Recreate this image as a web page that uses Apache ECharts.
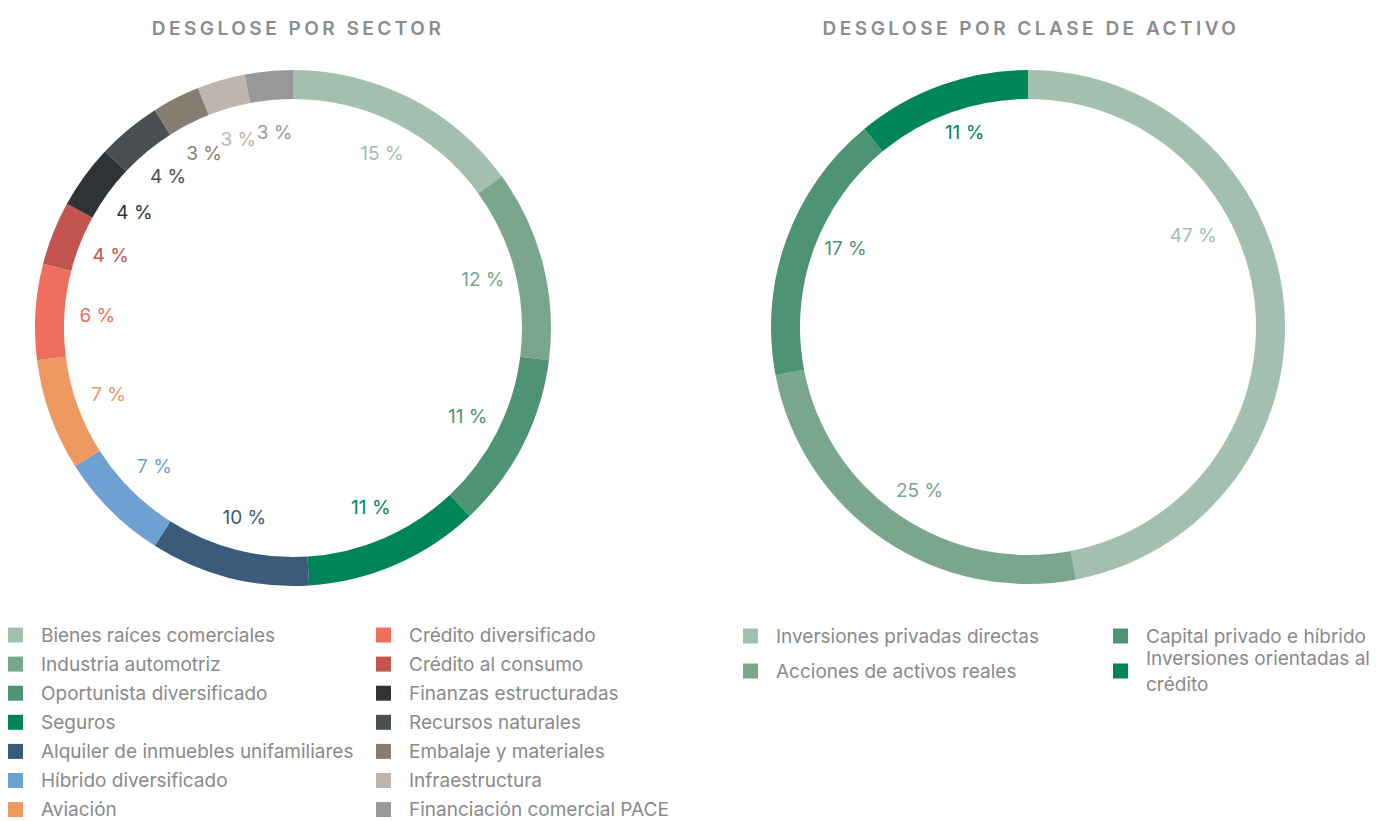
<!DOCTYPE html>
<html>
<head>
<meta charset="utf-8">
<script src="https://cdn.jsdelivr.net/npm/echarts@6/dist/echarts.min.js"></script>
<style>
html, body { margin: 0; padding: 0; background: #fff; }
#chart { width: 1380px; height: 821px; }
/* titles are tracked out in the source */
#chart text[style*="TitleFace"] { letter-spacing: 3.5px; }
</style>
</head>
<body>
<div id="chart"></div>
<script>
const sectorNames = [
    'Bienes raíces comerciales', 'Industria automotriz', 'Oportunista diversificado', 'Seguros',
    'Alquiler de inmuebles unifamiliares', 'Híbrido diversificado', 'Aviación',
    'Crédito diversificado', 'Crédito al consumo', 'Finanzas estructuradas', 'Recursos naturales',
    'Embalaje y materiales', 'Infraestructura', 'Financiación comercial PACE'
];
const sectorValues = [15, 12, 11, 11, 10, 7, 7, 6, 4, 4, 4, 3, 3, 3];
const sectorColors = [
    '#a3bfb0', '#7aa68e', '#4e9373', '#00845a', '#3a5b7a', '#6fa0d2', '#ee9862',
    '#f06e5e', '#c35550', '#2f3336', '#4a4f52', '#877c72', '#beb6ae', '#97989a'
];

const assetNames = [
    'Inversiones privadas directas', 'Acciones de activos reales',
    'Capital privado e híbrido', 'Inversiones orientadas al crédito'
];
const assetValues = [47, 25, 17, 11];
const assetColors = ['#a3bfb0', '#7aa68e', '#4e9373', '#00845a'];

const FONT = 'Inter';
const TEXT_GREY = '#8a8a8a';

const chart = echarts.init(document.getElementById('chart'), null, { renderer: 'svg' });

// the ring itself
function ring(names, values, colors, center, radius) {
    return {
        type: 'pie',
        center: center,
        radius: radius,
        startAngle: 90,
        silent: true,
        label: { show: false },
        labelLine: { show: false },
        emphasis: { disabled: true },
        data: names.map((n, i) => ({ name: n, value: values[i], itemStyle: { color: colors[i] } }))
    };
}

// transparent copy of the ring, only used to place the % labels inside the hole
function labels(names, values, colors, center, radius, offsets) {
    return {
        type: 'pie',
        center: center,
        radius: radius,
        startAngle: 90,
        silent: true,
        avoidLabelOverlap: false,
        labelLayout: { hideOverlap: false },
        labelLine: { show: false },
        emphasis: { disabled: true },
        data: names.map((n, i) => ({
            name: n,
            value: values[i],
            itemStyle: { color: 'rgba(0,0,0,0)' },
            label: {
                show: true,
                position: 'inside',
                formatter: '{c} %',
                color: colors[i],
                fontFamily: FONT,
                fontSize: 19,
                offset: (offsets && offsets[i]) || [0, 0]
            }
        }))
    };
}

function legend(names, left, top, gap, lineHeight, formatter) {
    return {
        data: names,
        orient: 'vertical',
        left: left,
        top: top,
        height: 260,
        padding: 0,
        icon: 'rect',
        itemWidth: 15,
        itemHeight: 15,
        itemGap: gap,
        selectedMode: false,
        formatter: formatter,
        textStyle: {
            color: TEXT_GREY,
            fontFamily: FONT,
            fontSize: 19,
            lineHeight: lineHeight,
            padding: [0, 0, 0, 13]
        }
    };
}

const titleStyle = {
    color: '#8c8c8f',
    fontFamily: 'Inter, TitleFace',
    fontSize: 19,
    fontWeight: 600
};

const wrapAsset = name => name === 'Inversiones orientadas al crédito'
    ? 'Inversiones orientadas al\ncrédito' : name;

const option = {
    backgroundColor: '#fff',
    animation: false,
    title: [
        { text: 'DESGLOSE POR SECTOR', left: 293, top: 14, textAlign: 'center', textStyle: titleStyle },
        { text: 'DESGLOSE POR CLASE DE ACTIVO', left: 1026, top: 14, textAlign: 'center', textStyle: titleStyle }
    ],
    legend: [
        legend(sectorNames.slice(0, 7), 8, 625, 9.1, 20),
        legend(sectorNames.slice(7), 376, 625, 9.1, 20),
        legend(assetNames.slice(0, 2), 743, 623, 9, 26),
        legend(assetNames.slice(2), 1113, 623, -4, 26, wrapAsset)
    ],
    series: [
        ring(sectorNames, sectorValues, sectorColors, [293, 328], [229, 258]),
        ring(assetNames, assetValues, assetColors, [1028, 327], [228, 257]),
        labels(sectorNames, sectorValues, sectorColors, [293, 328], [173, 213]),
        labels(assetNames, assetValues, assetColors, [1028, 327], [170, 210],
            [[-27, -73], [0, 4], [-1, -13], [2, -13]])
    ]
};

chart.setOption(option);
</script>
</body>
</html>
